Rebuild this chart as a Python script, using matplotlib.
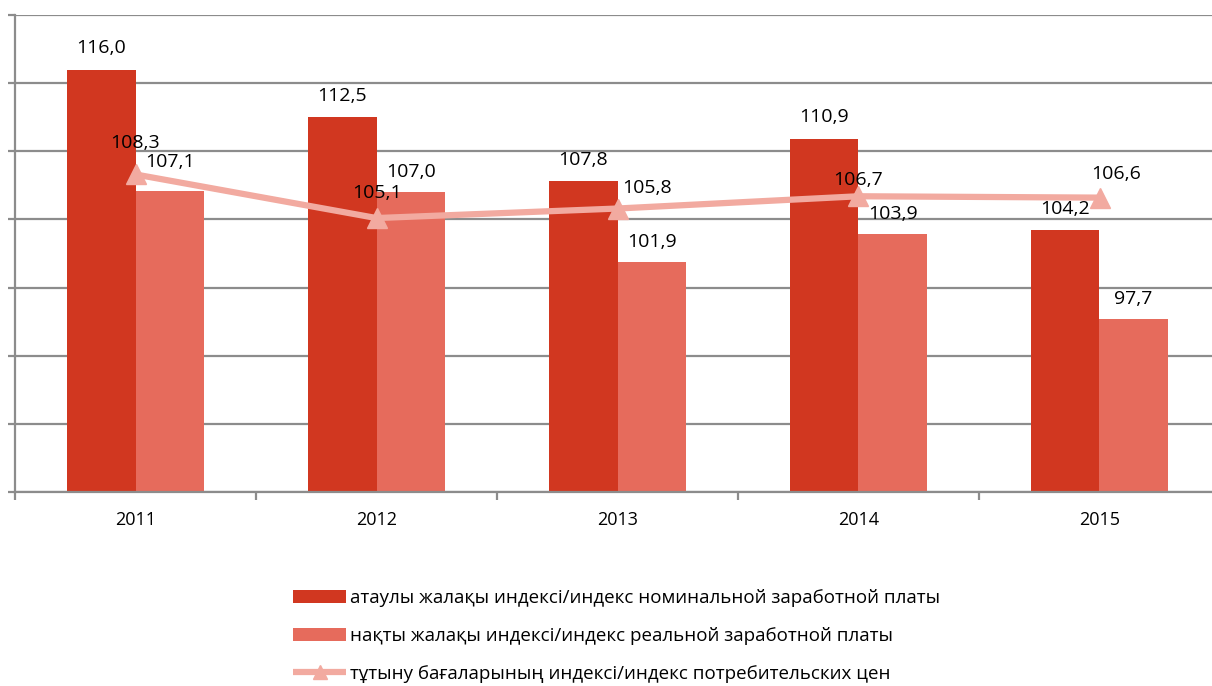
import matplotlib.pyplot as plt
import numpy as np

plt.rcParams['font.family'] = ['Open Sans', 'DejaVu Sans']

#------------ data -------------
years = ['2011', '2012', '2013', '2014', '2015']
nominal = [116.0, 112.5, 107.8, 110.9, 104.2]
real = [107.1, 107.0, 101.9, 103.9, 97.7]
cpi = [108.3, 105.1, 105.8, 106.7, 106.6]

lbl_nominal = 'атаулы жалақы индексі/индекс номинальной заработной платы'
lbl_real = 'нақты жалақы индексі/индекс реальной заработной платы'
lbl_cpi = 'тұтыну бағаларының индексі/индекс потребительских цен'

c_nom = '#D13720'
c_real = '#E66B5C'
c_cpi = '#F2AAA0'
c_grid = '#8C8C8C'

fig = plt.figure(figsize=(12.12, 6.86), dpi=100)
ax = fig.add_axes([15/1212, 1-492/686, 1205/1212, 477/686])

x = np.arange(len(years))
w = 0.283
b1 = ax.bar(x - w/2, nominal, w, bottom=0, color=c_nom, label=lbl_nominal, zorder=2)
b2 = ax.bar(x + w/2, real, w, color=c_real, label=lbl_real, zorder=2)
ln, = ax.plot(x, cpi, color=c_cpi, lw=4.5, marker='^', ms=15, zorder=3,
              solid_capstyle='butt', label=lbl_cpi)

ax.set_ylim(85, 120)
ax.set_xlim(-0.5, 4.5)
ax.set_yticks(np.arange(85, 121, 5))
ax.set_yticklabels([])
ax.grid(axis='y', color=c_grid, lw=1.6, zorder=0)
ax.set_xticks(np.arange(-0.5, 4.6, 1))
ax.set_xticklabels([])
ax.set_xticks(x, minor=True)
ax.set_xticklabels(years, minor=True, fontsize=13)
ax.tick_params(axis='x', which='minor', length=0, pad=14)
ax.tick_params(axis='x', which='major', length=5.5, width=1.6, color=c_grid)
ax.tick_params(axis='y', length=5, width=1.6, color=c_grid)
for s in ['top', 'right']:
    ax.spines[s].set_visible(False)
for s in ['left', 'bottom']:
    ax.spines[s].set_color(c_grid)
    ax.spines[s].set_linewidth(1.6)

def fmt(v):
    return ('%.1f' % v).replace('.', ',')

# data labels
for i in range(len(years)):
    ax.annotate(fmt(nominal[i]), (x[i] - w/2, nominal[i]), xytext=(0, 15.5),
                textcoords='offset points', ha='center', va='center', fontsize=14)
    dy = 21 if i == 0 else 14.5
    ax.annotate(fmt(real[i]), (x[i] + w/2, real[i]), xytext=(0, dy),
                textcoords='offset points', ha='center', va='center', fontsize=14)
cpi_off = [(0, 23), (0, 18), (21, 15), (0, 12), (12, 17)]
for i in range(len(years)):
    ax.annotate(fmt(cpi[i]), (x[i], cpi[i]), xytext=cpi_off[i],
                textcoords='offset points', ha='center', va='center', fontsize=14)

fig.legend(handles=[b1, b2, ln], loc='upper left', bbox_to_anchor=(284/1212, 1-580/686),
           frameon=False, fontsize=13.5, handlelength=2.8, handleheight=0.7,
           handletextpad=0.2, labelspacing=1.05, borderpad=0, markerscale=0.7)

fig.savefig('out.png', dpi=100)
